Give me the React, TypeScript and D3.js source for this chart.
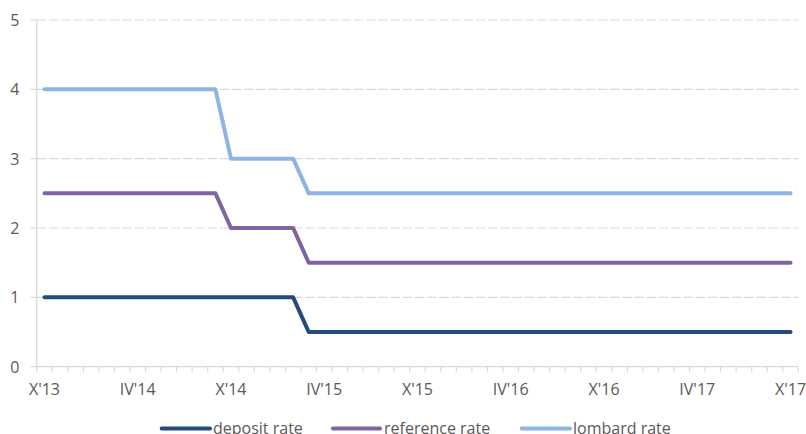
import React from "react";
import * as d3 from "d3";

// Monthly observations, October 2013 through October 2017
const months: string[] = [
  "X'13", "XI'13", "XII'13",
  "I'14", "II'14", "III'14", "IV'14", "V'14", "VI'14", "VII'14", "VIII'14", "IX'14", "X'14", "XI'14", "XII'14",
  "I'15", "II'15", "III'15", "IV'15", "V'15", "VI'15", "VII'15", "VIII'15", "IX'15", "X'15", "XI'15", "XII'15",
  "I'16", "II'16", "III'16", "IV'16", "V'16", "VI'16", "VII'16", "VIII'16", "IX'16", "X'16", "XI'16", "XII'16",
  "I'17", "II'17", "III'17", "IV'17", "V'17", "VI'17", "VII'17", "VIII'17", "IX'17", "X'17",
];

const depositRate: number[] = [
  1, 1, 1, 1, 1, 1, 1, 1, 1, 1, 1, 1, 1, 1, 1, 1, 1,
  0.5, 0.5, 0.5, 0.5, 0.5, 0.5, 0.5, 0.5, 0.5, 0.5, 0.5, 0.5, 0.5, 0.5, 0.5, 0.5,
  0.5, 0.5, 0.5, 0.5, 0.5, 0.5, 0.5, 0.5, 0.5, 0.5, 0.5, 0.5, 0.5, 0.5, 0.5, 0.5,
];

const referenceRate: number[] = [
  2.5, 2.5, 2.5, 2.5, 2.5, 2.5, 2.5, 2.5, 2.5, 2.5, 2.5, 2.5,
  2, 2, 2, 2, 2,
  1.5, 1.5, 1.5, 1.5, 1.5, 1.5, 1.5, 1.5, 1.5, 1.5, 1.5, 1.5, 1.5, 1.5, 1.5, 1.5,
  1.5, 1.5, 1.5, 1.5, 1.5, 1.5, 1.5, 1.5, 1.5, 1.5, 1.5, 1.5, 1.5, 1.5, 1.5, 1.5,
];

const lombardRate: number[] = [
  4, 4, 4, 4, 4, 4, 4, 4, 4, 4, 4, 4,
  3, 3, 3, 3, 3,
  2.5, 2.5, 2.5, 2.5, 2.5, 2.5, 2.5, 2.5, 2.5, 2.5, 2.5, 2.5, 2.5, 2.5, 2.5, 2.5,
  2.5, 2.5, 2.5, 2.5, 2.5, 2.5, 2.5, 2.5, 2.5, 2.5, 2.5, 2.5, 2.5, 2.5, 2.5, 2.5,
];

const tickLabels: string[] = ["X'13", "IV'14", "X'14", "IV'15", "X'15", "IV'16", "X'16", "IV'17", "X'17"];
const yTicks: number[] = [0, 1, 2, 3, 4, 5];

const seriesNames: string[] = ["deposit rate", "reference rate", "lombard rate"];
const seriesColors: string[] = ["#254A7C", "#8064A2", "#8DB4E2"];

const W = 806;
const H = 434;
const FONT = "'Open Sans', 'Segoe UI', sans-serif";
const TEXT = "#595959";
const GRID = "#D9D9D9";

export default function App() {
  const x = d3.scaleBand<string>().domain(months).range([36.7, 798.3]).padding(0);
  const y = d3.scaleLinear().domain([0, 5]).range([366.7, 20]);
  const cx = (m: string) => (x(m) as number) + x.bandwidth() / 2;

  const line = d3
    .line<number>()
    .x((_, i) => cx(months[i]))
    .y((v) => y(v));

  const series = [depositRate, referenceRate, lombardRate];
  const [x0, x1] = x.range();
  const boundaries = months.map((m) => x(m) as number).concat([x1]);

  const legendLines: [number, number, number][] = [
    [161.7, 210, 213],
    [333, 380, 384],
    [521.7, 570, 573],
  ];

  return (
    <svg
      width={W}
      height={H}
      style={{ position: "absolute", left: 0, top: 0, background: "#fff" }}
      fontFamily={FONT}
    >
      {/* horizontal gridlines */}
      {yTicks
        .filter((t) => t > 0)
        .map((t) => (
          <g key={`g${t}`}>
            <line x1={x0 - 6} x2={x0} y1={y(t)} y2={y(t)} stroke={GRID} strokeWidth={1.2} />
            <line
              x1={x0}
              x2={x1}
              y1={y(t)}
              y2={y(t)}
              stroke={GRID}
              strokeWidth={1.2}
              strokeDasharray="9.5,2.7"
            />
          </g>
        ))}

      {/* axes */}
      <line x1={x0} x2={x0} y1={y(5)} y2={y(0)} stroke={GRID} strokeWidth={1.3} />
      <line x1={x0 - 6} x2={x1} y1={y(0)} y2={y(0)} stroke={GRID} strokeWidth={1.3} />
      {boundaries.map((b, i) => (
        <line key={`t${i}`} x1={b} x2={b} y1={y(0)} y2={y(0) + 5} stroke={GRID} strokeWidth={1.2} />
      ))}

      {/* y tick labels */}
      {yTicks.map((t) => (
        <text
          key={`yl${t}`}
          x={19.5}
          y={y(t)}
          textAnchor="end"
          dominantBaseline="central"
          fontSize={16}
          fill={TEXT}
        >
          {t}
        </text>
      ))}

      {/* x tick labels */}
      {tickLabels.map((l) => (
        <text key={`xl${l}`} x={cx(l)} y={395} textAnchor="middle" fontSize={16} fill={TEXT}>
          {l}
        </text>
      ))}

      {/* rate lines */}
      {series.map((s, k) => (
        <path
          key={`s${k}`}
          d={line(s) as string}
          fill="none"
          stroke={seriesColors[k]}
          strokeWidth={4}
          strokeLinejoin="round"
          strokeLinecap="round"
        />
      ))}

      {/* legend */}
      {seriesNames.map((n, k) => (
        <g key={`lg${k}`}>
          <line
            x1={legendLines[k][0]}
            x2={legendLines[k][1]}
            y1={428.5}
            y2={428.5}
            stroke={seriesColors[k]}
            strokeWidth={4}
            strokeLinecap="round"
          />
          <text x={legendLines[k][2]} y={434} fontSize={16} fill={TEXT}>
            {n}
          </text>
        </g>
      ))}
    </svg>
  );
}
